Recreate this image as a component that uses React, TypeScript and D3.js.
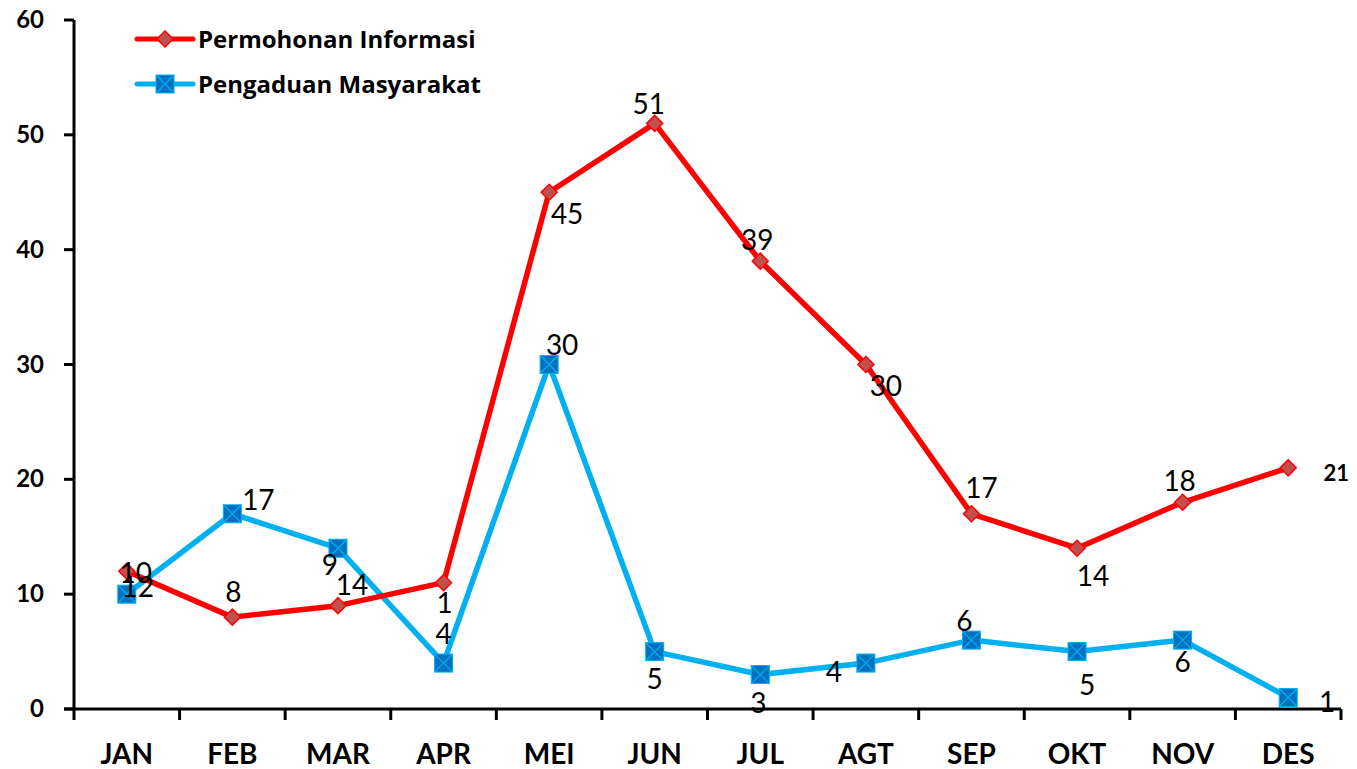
import React from 'react';
import * as d3 from 'd3';

const months = ['JAN', 'FEB', 'MAR', 'APR', 'MEI', 'JUN', 'JUL', 'AGT', 'SEP', 'OKT', 'NOV', 'DES'];
const permohonan = [12, 8, 9, 11, 45, 51, 39, 30, 17, 14, 18, 21];
const pengaduan = [10, 17, 14, 4, 30, 5, 3, 4, 6, 5, 6, 1];
// data labels as printed on the original chart
const permohonanLabels = ['10', '8', '14', '1', '45', '51', '39', '30', '17', '14', '18', '21'];
const pengaduanLabels = ['12', '17', '9', '4', '30', '5', '3', '4', '6', '5', '6', '1'];
const yTicks = [0, 10, 20, 30, 40, 50, 60];

// label offsets from the marker (layout only)
const redOff: [number, number][] = [[9, 12], [1, -15], [14, -11], [1, 30], [18, 32], [-6, -9], [-3, -11], [20, 31], [10, -16], [16, 38], [-3, -11], [48, 13]];
const blueOff: [number, number][] = [[11, 3], [26, -4], [-8, 27], [0, -19], [13, -10], [0, 37], [-2, 38], [-32, 19], [-7, -9], [10, 43], [0, 32], [39, 14]];

const W = 1357, H = 769;
const left = 74, right = 1341, top = 20, bottom = 709;
const font = 'Lato, "Open Sans", sans-serif';

const App: React.FC = () => {
    const x = d3.scaleBand<string>().domain(months).range([left, right]);
    const y = d3.scaleLinear().domain([0, 60]).range([bottom, top]);
    const cx = (m: string) => (x(m) || 0) + x.bandwidth() / 2;

    const line = d3.line<number>()
        .x((d, i) => cx(months[i]))
        .y((d) => y(d));

    const diamond = (px: number, py: number, s = 8) =>
        `M${px},${py - s}L${px + s},${py}L${px},${py + s}L${px - s},${py}Z`;

    const square = (px: number, py: number, key: string | number, s = 9) => (
        <g key={key}>
            <rect x={px - s} y={py - s} width={s * 2} height={s * 2} fill="#0070C0" stroke="#00B0F0" strokeWidth={1} />
            <path d={`M${px - s},${py - s}L${px + s},${py + s}M${px + s},${py - s}L${px - s},${py + s}`} stroke="#00B0F0" strokeWidth={1.2} />
        </g>
    );

    return (
        <svg width={W} height={H} style={{ position: 'absolute', left: 0, top: 0, background: '#fff' }} fontFamily={font}>
            {/* axes */}
            <line x1={left} x2={left} y1={top} y2={bottom} stroke="#000" strokeWidth={3} />
            <line x1={left - 10} x2={right} y1={bottom} y2={bottom} stroke="#000" strokeWidth={3} />
            {yTicks.map((t) => (
                <g key={t}>
                    <line x1={left - 10} x2={left} y1={y(t)} y2={y(t)} stroke="#000" strokeWidth={3} />
                    <text x={44} y={y(t) + 8} textAnchor="end" fontSize={24} fontWeight="bold">{t}</text>
                </g>
            ))}
            {[...months.map((m) => x(m) || 0), right].map((px, i) => (
                <line key={i} x1={px} x2={px} y1={bottom} y2={bottom + 11} stroke="#000" strokeWidth={3} />
            ))}
            {months.map((m) => (
                <text key={m} x={cx(m)} y={764} textAnchor="middle" fontSize={28} fontWeight="bold">{m}</text>
            ))}

            {/* series */}
            <path d={line(pengaduan) || ''} fill="none" stroke="#00B0F0" strokeWidth={5.5} strokeLinejoin="round" />
            <path d={line(permohonan) || ''} fill="none" stroke="#FF0000" strokeWidth={5.5} strokeLinejoin="round" />
            {pengaduan.map((v, i) => square(cx(months[i]), y(v), 'b' + i))}
            {permohonan.map((v, i) => (
                <path key={'r' + i} d={diamond(cx(months[i]), y(v))} fill="#C0504D" stroke="#FF0000" strokeWidth={1.5} />
            ))}

            {/* data labels */}
            {permohonanLabels.map((l, i) => (
                <text key={'rl' + i} x={cx(months[i]) + redOff[i][0]} y={y(permohonan[i]) + redOff[i][1]}
                    textAnchor="middle" fontSize={i === 11 ? 22 : 28} fontWeight={i === 11 ? 'bold' : 'normal'}>{l}</text>
            ))}
            {pengaduanLabels.map((l, i) => (
                <text key={'bl' + i} x={cx(months[i]) + blueOff[i][0]} y={y(pengaduan[i]) + blueOff[i][1]}
                    textAnchor="middle" fontSize={28}>{l}</text>
            ))}

            {/* legend */}
            <line x1={137} x2={193} y1={39} y2={39} stroke="#FF0000" strokeWidth={5} strokeLinecap="round" />
            <path d={diamond(165, 39)} fill="#C0504D" stroke="#FF0000" strokeWidth={1.5} />
            <text x={198} y={48} fontSize={24} fontWeight="bold" fontFamily='"Open Sans", sans-serif'>Permohonan Informasi</text>
            <line x1={137} x2={193} y1={84} y2={84} stroke="#00B0F0" strokeWidth={5} strokeLinecap="round" />
            {square(165, 84, 'leg')}
            <text x={198} y={93} fontSize={24} fontWeight="bold" fontFamily='"Open Sans", sans-serif'>Pengaduan Masyarakat</text>
        </svg>
    );
};

export default App;
